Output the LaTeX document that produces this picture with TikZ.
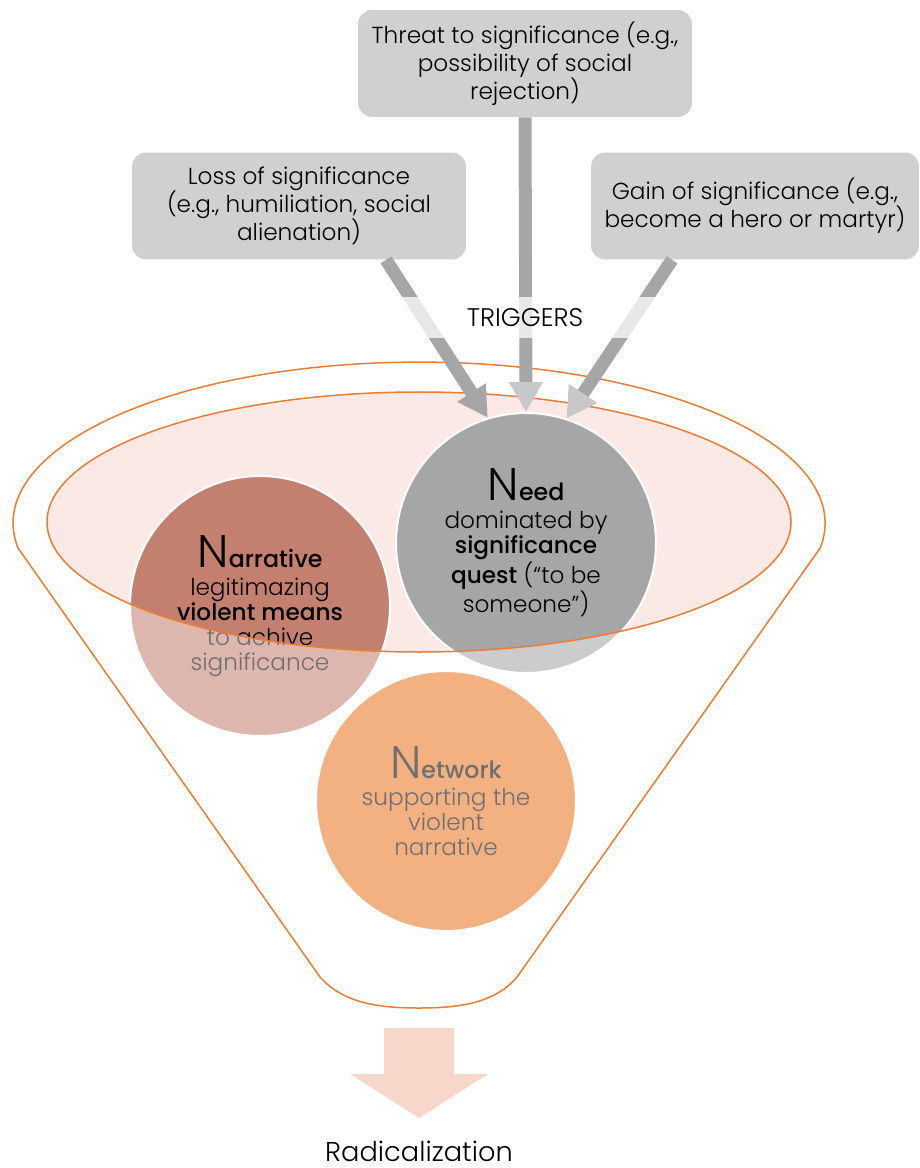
\documentclass[tikz,border=0pt]{standalone}
\usepackage{fontspec}
\setmainfont{Poppins Light}[BoldFont={Poppins Medium}]
\usetikzlibrary{arrows.meta,calc}

\definecolor{boxgray}{HTML}{D0D0D0}
\definecolor{arrowdark}{HTML}{A6A6A6}
\definecolor{arrowlight}{HTML}{C8C8C8}
\definecolor{stagepink}{HTML}{FBE9E5}
\definecolor{funnelorange}{HTML}{ED7D31}
\definecolor{narrfill}{HTML}{C4806F}
\definecolor{needfill}{HTML}{A6A6A6}
\definecolor{netfill}{HTML}{EB7523}
\definecolor{radfill}{HTML}{F8D7CB}

\newcommand{\boxfont}{\fontsize{13.2}{15.9}\selectfont}
\newcommand{\circfont}{\fontsize{13.2}{14.2}\selectfont}
\newcommand{\headfont}{\bfseries\fontsize{13.5}{14}\selectfont}
\newcommand{\trigfont}{\fontsize{14.5}{16}\selectfont}
\newcommand{\radfont}{\fontsize{15.5}{18}\selectfont}
\newcommand{\bigN}{{\fontsize{26}{26}\selectfont N}}

\begin{document}
\begin{tikzpicture}[x=0.02cm, y=-0.02cm,
  trigger/.style={fill=boxgray, rounded corners=0.28cm, align=center, font=\boxfont, minimum height=2.14cm, inner sep=0pt},
  pull/.style={arrowdark, line width=0.26cm, -{Triangle[width=0.64cm,length=0.6cm]}},
  pulllight/.style={pull, -{Triangle[width=0.64cm,length=0.6cm,color=arrowlight]}},
  stage/.style={circle, draw=white, line width=0.04cm, minimum size=5.2cm, inner sep=0pt, align=center, font=\circfont}]

  \useasboundingbox (0,0) rectangle (919,1168);

  % stage ellipse
  \fill[stagepink] (419,522) ellipse [x radius=372, y radius=130];

  % the three N's
  \node[stage, fill=narrfill] (narrative) at (260,606) {\bigN{\headfont arrative}\\[1.5pt]legitimazing\\\textbf{violent means}\\to achive\\significance};
  \node[stage, fill=needfill] (need) at (526,543) {\bigN{\headfont eed}\\[1.5pt]dominated by\\\textbf{significance}\\\textbf{quest} (“to be\\someone”)};
  \node[stage, fill=netfill] (network) at (446,801) {\bigN{\headfont etwork}\\[1.5pt]supporting the\\violent\\narrative};

  % fade outside the stage
  \fill[white, fill opacity=0.435, even odd rule] (0,340) rectangle (919,1000) (419,522) ellipse [x radius=372, y radius=130];

  % funnel
  \draw[funnelorange, line width=0.03cm] (419,522) ellipse [x radius=372, y radius=130];
  \draw[funnelorange, line width=0.03cm] (18,548) arc [start angle=171.1, end angle=368.9, x radius=406, y radius=161]
    -- (517,977) .. controls (495,1003) and (460,1008) .. (419,1008) .. controls (378,1008) and (343,1003) .. (320,977) -- cycle;

  % triggers
  \node[trigger, minimum width=6.68cm] (threat) at (525,63.5) {Threat to significance (e.g.,\\possibility of social\\rejection)};
  \node[trigger, minimum width=6.68cm] (loss) at (299,206) {Loss of significance\\(e.g., humiliation, social\\alienation)};
  \node[trigger, minimum width=6.56cm] (gain) at (755,206) {Gain of significance (e.g.,\\become a hero or martyr)};

  \draw[pull] ($(loss.south)+(87,0)$) -- (need.107);
  \draw[pulllight] (threat.south) -- (need.north);
  \draw[pulllight] ($(gain.south)+(-83,0)$) -- (need.72);

  \node[fill=white, fill opacity=0.75, text opacity=1, minimum width=6.4cm, minimum height=0.82cm, font=\trigfont] (label) at (525,317.5) {TRIGGERS};

  % outcome
  \fill[radfill] (384,1028) -- (454,1028) -- (454,1074) -- (488,1074) -- (419,1118) -- (350,1074) -- (384,1074) -- cycle;
  \node[font=\radfont] (outcome) at (419,1151) {Radicalization};
\end{tikzpicture}
\end{document}
